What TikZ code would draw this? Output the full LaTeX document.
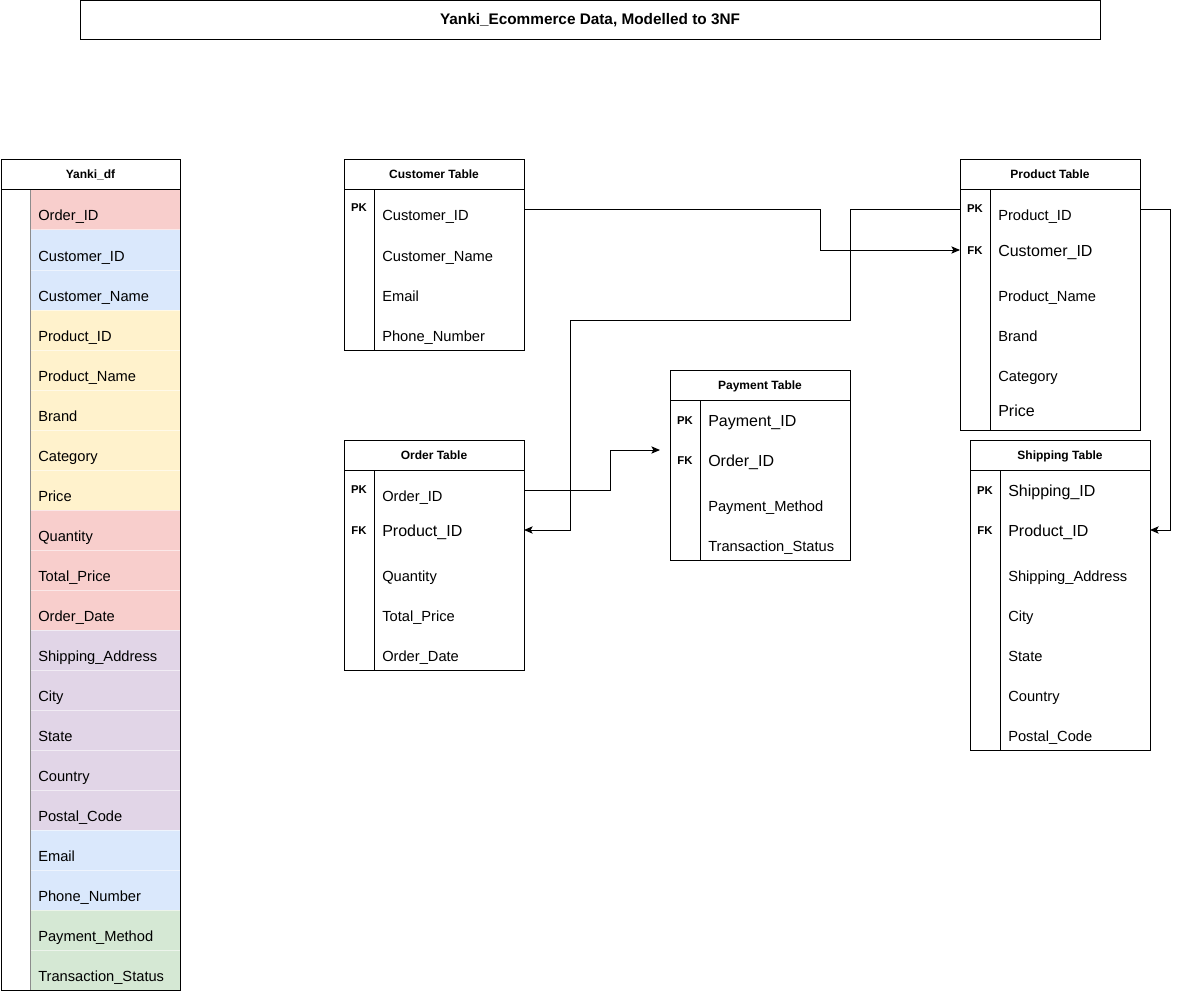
\documentclass[tikz,border=0pt]{standalone}
\usepackage{fontspec}
\setmainfont{Liberation Sans}
\usetikzlibrary{arrows.meta}
\definecolor[named]{CellRed}{HTML}{F8CECC}
\definecolor[named]{CellBlue}{HTML}{DAE8FC}
\definecolor[named]{CellYellow}{HTML}{FFF2CC}
\definecolor[named]{CellPurple}{HTML}{E1D5E7}
\definecolor[named]{CellGreen}{HTML}{D5E8D4}
\tikzset{
  frame/.style={draw=black,line width=0.75pt},
  hdr/.style={font=\bfseries\fontsize{9}{11}\selectfont,anchor=base,inner sep=0pt},
  keylbl/.style={font=\bfseries\fontsize{8.5}{10}\selectfont,anchor=base,inner sep=0pt},
  fld/.style={font=\fontsize{11}{13}\selectfont,anchor=base west,inner sep=0pt},
  bigfld/.style={font=\fontsize{12}{14}\selectfont,anchor=base west,inner sep=0pt},
  fklink/.style={line width=0.75pt,-{Stealth[length=6.5pt,width=5.5pt,inset=1.5pt]}}
}
\begin{document}
\begin{tikzpicture}[x=0.75pt,y=-0.75pt]
    \useasboundingbox (0,0) rectangle (1180,991);

    % Title
    \draw[frame] (80,1) rectangle (1100,40);
    \node[font=\bfseries\fontsize{11.5}{13}\selectfont] (Title) at (590,20.5) {Yanki\_Ecommerce Data, Modelled to 3NF};

    % The flat source frame
    \begin{scope}
      \foreach \lbl/\clr [count=\i] in {
          Order\_ID/CellRed, Customer\_ID/CellBlue, Customer\_Name/CellBlue,
          Product\_ID/CellYellow, Product\_Name/CellYellow, Brand/CellYellow,
          Category/CellYellow, Price/CellYellow, Quantity/CellRed,
          Total\_Price/CellRed, Order\_Date/CellRed, Shipping\_Address/CellPurple,
          City/CellPurple, State/CellPurple, Country/CellPurple,
          Postal\_Code/CellPurple, Email/CellBlue, Phone\_Number/CellBlue,
          Payment\_Method/CellGreen, Transaction\_Status/CellGreen} {
        \fill[\clr] (30,150+40*\i) rectangle (180,190+40*\i);
        \node[fld] (YD\i) at (38,181+40*\i) {\lbl};
      }
      \foreach \i in {1,...,19}
        \draw[white,opacity=0.55,line width=0.75pt] (30,190+40*\i) -- (180,190+40*\i);
      \draw[black!45,line width=0.75pt] (30,190) -- (30,990);
      \draw[frame] (1,160) rectangle (180,990);
      \draw[frame] (1,190) -- (180,190);
      \node[hdr] (YDh) at (90.5,179) {Yanki\_df};
    \end{scope}

    % Customer table
    \begin{scope}
      \draw[frame] (344,160) rectangle (524,350);
      \draw[frame] (344,190) -- (524,190);
      \draw[frame] (374,190) -- (374,350);
      \node[hdr] (CTh) at (434,179) {Customer Table};
      \node[keylbl] (CTpk) at (359,212) {PK};
      \node[fld] (CT1) at (382,221) {Customer\_ID};
      \node[fld] (CT2) at (382,261) {Customer\_Name};
      \node[fld] (CT3) at (382,301) {Email};
      \node[fld] (CT4) at (382,341) {Phone\_Number};
      \coordinate (CTout) at (524,210);
    \end{scope}

    % Product table
    \begin{scope}
      \draw[frame] (960,160) rectangle (1140,430);
      \draw[frame] (960,190) -- (1140,190);
      \draw[frame] (990,190) -- (990,430);
      \node[hdr] (PTh) at (1050,179) {Product Table};
      \node[keylbl] (PTpk) at (975,213) {PK};
      \node[keylbl] (PTfk) at (975,254) {FK};
      \node[fld] (PT1) at (998,221) {Product\_ID};
      \node[bigfld] (PT2) at (998,256) {Customer\_ID};
      \node[fld] (PT3) at (998,301) {Product\_Name};
      \node[fld] (PT4) at (998,341) {Brand};
      \node[fld] (PT5) at (998,381) {Category};
      \node[bigfld] (PT6) at (998,416) {Price};
      \coordinate (PTin) at (960,250);
      \coordinate (PToutL) at (960,210);
      \coordinate (PToutR) at (1140,210);
    \end{scope}

    % Order table
    \begin{scope}
      \draw[frame] (344,440) rectangle (524,670);
      \draw[frame] (344,470) -- (524,470);
      \draw[frame] (374,470) -- (374,670);
      \node[hdr] (OTh) at (434,459) {Order Table};
      \node[keylbl] (OTpk) at (359,493) {PK};
      \node[keylbl] (OTfk) at (359,534) {FK};
      \node[fld] (OT1) at (382,501) {Order\_ID};
      \node[bigfld] (OT2) at (382,536) {Product\_ID};
      \node[fld] (OT3) at (382,581) {Quantity};
      \node[fld] (OT4) at (382,621) {Total\_Price};
      \node[fld] (OT5) at (382,661) {Order\_Date};
      \coordinate (OTout) at (524,490);
      \coordinate (OTin) at (524,530);
    \end{scope}

    % Payment table
    \begin{scope}
      \draw[frame] (670,370) rectangle (850,560);
      \draw[frame] (670,400) -- (850,400);
      \draw[frame] (700,400) -- (700,560);
      \node[hdr] (PYh) at (760,389) {Payment Table};
      \node[keylbl] (PYpk) at (685,424) {PK};
      \node[keylbl] (PYfk) at (685,464) {FK};
      \node[bigfld] (PY1) at (708,426) {Payment\_ID};
      \node[bigfld] (PY2) at (708,466) {Order\_ID};
      \node[fld] (PY3) at (708,511) {Payment\_Method};
      \node[fld] (PY4) at (708,551) {Transaction\_Status};
      \coordinate (PYin) at (660,450);
    \end{scope}

    % Shipping table
    \begin{scope}
      \draw[frame] (970,440) rectangle (1150,750);
      \draw[frame] (970,470) -- (1150,470);
      \draw[frame] (1000,470) -- (1000,750);
      \node[hdr] (SHh) at (1060,459) {Shipping Table};
      \node[keylbl] (SHpk) at (985,494) {PK};
      \node[keylbl] (SHfk) at (985,534) {FK};
      \node[bigfld] (SH1) at (1008,496) {Shipping\_ID};
      \node[bigfld] (SH2) at (1008,536) {Product\_ID};
      \node[fld] (SH3) at (1008,581) {Shipping\_Address};
      \node[fld] (SH4) at (1008,621) {City};
      \node[fld] (SH5) at (1008,661) {State};
      \node[fld] (SH6) at (1008,701) {Country};
      \node[fld] (SH7) at (1008,741) {Postal\_Code};
      \coordinate (SHin) at (1150,530);
    \end{scope}

    % Key links
    \draw[fklink] (CTout) -- ++(296,0) |- (PTin);
    \draw[fklink] (PToutL) -| (850,320) -| (570,530) -- (OTin);
    \draw[fklink] (PToutR) -- ++(30,0) |- (SHin);
    \draw[fklink] (OTout) -- ++(86,0) |- (PYin);

  \end{tikzpicture}
\end{document}
